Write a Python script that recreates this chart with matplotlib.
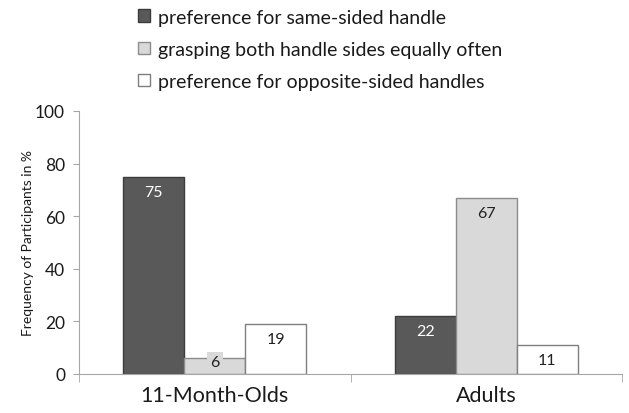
import numpy as np
import matplotlib
matplotlib.use("Agg")
import matplotlib.pyplot as plt
from matplotlib.patches import Patch

plt.rcParams['font.family'] = ['Lato', 'DejaVu Sans']

groups = ['11-Month-Olds', 'Adults']
series = ['preference for same-sided handle',
          'grasping both handle sides equally often',
          'preference for opposite-sided handles']
same_sided = [75, 22]
both_sides = [6, 67]
opposite_sided = [19, 11]

fills = ['#595959', '#d9d9d9', '#ffffff']
edges = ['#3c3c3c', '#8c8c8c', '#7f7f7f']
label_colors = ['white', '#222222', '#222222']

fig = plt.figure(figsize=(6.29, 4.14), dpi=100)
ax = fig.add_axes([79 / 629, 1 - 375 / 414, (622 - 79) / 629, (375 - 112) / 414])

x = np.arange(len(groups))
w = 0.225
for i, vals in enumerate([same_sided, both_sides, opposite_sided]):
    pos = x + (i - 1) * w
    ax.bar(pos, vals, width=w, color=fills[i], edgecolor=edges[i], linewidth=1.0, zorder=2)
    for px, v in zip(pos, vals):
        # small bars get the label lifted so it stays above the axis
        ly = max(v - 5.7, 4.5)
        bbox = None
        if v - 5.7 < 4.5:
            bbox = dict(boxstyle='square,pad=0.2', facecolor=fills[i], edgecolor='none')
        ax.text(px, ly, str(v), ha='center', va='center', fontsize=11.5,
                color=label_colors[i], bbox=bbox, zorder=3)

ax.set_xlim(-0.5, 1.5)
ax.set_ylim(0, 100)
ax.set_yticks([0, 20, 40, 60, 80, 100])
ax.set_xticks(x)
ax.set_xticklabels(groups, fontsize=15.5, color='#1a1a1a')
ax.tick_params(axis='x', length=0, pad=8)
ax.set_xticks([-0.5, 0.5, 1.5], minor=True)
ax.tick_params(axis='x', which='minor', length=6, color='#a6a6a6', direction='out')
ax.tick_params(axis='y', labelsize=12.5, colors='#1a1a1a', length=4, color='#a6a6a6', pad=6)
for s in ['top', 'right']:
    ax.spines[s].set_visible(False)
for s in ['left', 'bottom']:
    ax.spines[s].set_color('#a6a6a6')
ax.set_ylabel('Frequency of Participants in %', fontsize=10, color='#1a1a1a', labelpad=1)

handles = [Patch(facecolor=f, edgecolor=e, linewidth=1.0) for f, e in zip(fills, edges)]
fig.legend(handles, series, loc='upper left', bbox_to_anchor=(126 / 629, 1.005),
           frameon=False, fontsize=14, handlelength=0.62, handleheight=0.62,
           handletextpad=0.45, labelspacing=0.78, borderaxespad=0.2)
for t in fig.legends[0].get_texts():
    t.set_color('#1a1a1a')

fig.savefig('out.png', dpi=100)
